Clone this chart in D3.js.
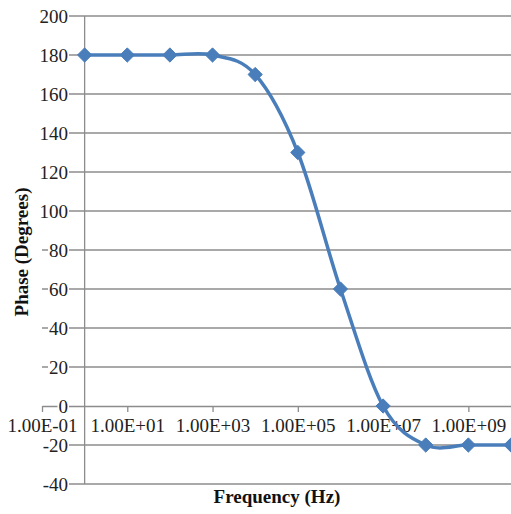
<!DOCTYPE html>
<html>
<head>
<meta charset="utf-8">
<script src="https://cdn.jsdelivr.net/npm/d3@7"></script>
<style>
  html, body { margin: 0; padding: 0; background: #fff; }
  svg { display: block; }
  svg text { font-family: 'Liberation Serif', 'DejaVu Serif', serif; }
</style>
</head>
<body>
<div id="chart"></div>
<script>
// data
const frequency = [1e0, 1e1, 1e2, 1e3, 1e4, 1e5, 1e6, 1e7, 1e8, 1e9, 1e10]
const phase = [180, 180, 180, 180, 170, 130, 60, 0, -20, -20, -20]

const xTickValues = [1e-1, 1e1, 1e3, 1e5, 1e7, 1e9]
const xTickLabels = ['1.00E-01', '1.00E+01', '1.00E+03', '1.00E+05', '1.00E+07', '1.00E+09']
const yTickValues = [-40, -20, 0, 20, 40, 60, 80, 100, 120, 140, 160, 180, 200]

const width = 511
const height = 514
const margin = {top: 16, right: 0, bottom: 30, left: 42}

const blue = '#4a7ebb'
const grid = '#8c8c8c'

const x = d3.scaleLog()
  .domain([1e-1, 1e10])
  .range([margin.left, width - margin.right])

const y = d3.scaleLinear()
  .domain([-40, 200])
  .range([height - margin.bottom, margin.top])

const svg = d3.select('#chart').append('svg')
  .attr('width', width)
  .attr('height', height)

// horizontal gridlines
svg.append('g')
  .selectAll('line')
  .data(yTickValues.filter(v => v !== 0))
  .join('line')
  .attr('x1', x(1e-1))
  .attr('x2', width)
  .attr('y1', d => y(d))
  .attr('y2', d => y(d))
  .attr('stroke', grid)
  .attr('stroke-width', 1.3)

// y axis crosses at 1
svg.append('line')
  .attr('x1', x(1)).attr('x2', x(1))
  .attr('y1', y(200)).attr('y2', y(-40))
  .attr('stroke', grid)
  .attr('stroke-width', 1.3)

// x axis at phase 0
const xAxis = g => g
  .attr('transform', `translate(0,${y(0)})`)
  .attr('font-family', null)
  .attr('font-size', null)
  .call(d3.axisBottom(x)
    .tickValues(xTickValues)
    .tickFormat((d, i) => xTickLabels[i])
    .tickSize(6)
    .tickSizeOuter(0)
    .tickPadding(7))
  .call(g => g.attr('font-family', null).attr('font-size', null))
  .call(g => g.selectAll('line, path').attr('stroke', grid).attr('stroke-width', 1.3))
  .call(g => g.selectAll('text')
    .attr('fill', '#222')
    .style('font-size', '19px'))

svg.append('g').call(xAxis)

// y tick labels with white boxes over the gridlines
const yLabels = svg.append('g')
  .selectAll('g')
  .data(yTickValues)
  .join('g')
  .attr('transform', d => `translate(68,${y(d)})`)

yLabels.append('rect')
yLabels.append('text')
  .attr('text-anchor', 'end')
  .attr('dominant-baseline', 'central')
  .attr('fill', '#222')
  .style('font-size', '19px')
  .text(d => d)

yLabels.each(function () {
  const g = d3.select(this)
  const b = g.select('text').node().getBBox()
  g.select('rect')
    .attr('x', b.x - 1)
    .attr('y', b.y + 4)
    .attr('width', b.width + 2)
    .attr('height', b.height - 8)
    .attr('fill', '#fff')
})

// smoothed line and diamond markers
const line = d3.line()
  .curve(d3.curveCardinal.tension(0))
  .x((d, i) => x(frequency[i]))
  .y(d => y(d))

svg.append('path')
  .attr('fill', 'none')
  .attr('stroke', blue)
  .attr('stroke-width', 3.5)
  .attr('d', line(phase))

svg.append('g')
  .selectAll('path')
  .data(phase)
  .join('path')
  .attr('transform', (d, i) => `translate(${x(frequency[i])},${y(d)})`)
  .attr('d', d3.symbol(d3.symbolDiamond2, 130))
  .attr('fill', blue)
  .attr('stroke', blue)
  .attr('stroke-width', 1)

// axis titles
svg.append('text')
  .attr('x', 277)
  .attr('y', 503)
  .attr('text-anchor', 'middle')
  .style('font-size', '19px')
  .style('font-weight', 'bold')
  .attr('fill', '#111')
  .text('Frequency (Hz)')

svg.append('text')
  .attr('transform', 'translate(28,252) rotate(-90)')
  .attr('text-anchor', 'middle')
  .style('font-size', '19px')
  .style('font-weight', 'bold')
  .attr('fill', '#111')
  .text('Phase (Degrees)')
</script>
</body>
</html>
